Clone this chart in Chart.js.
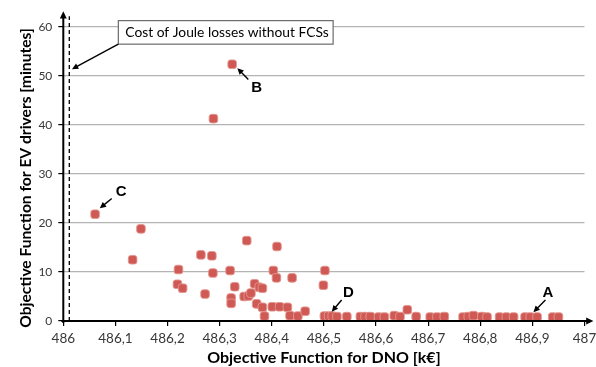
<!DOCTYPE html>
<html>
<head>
<meta charset="utf-8">
<script src="https://cdn.jsdelivr.net/npm/chart.js@4/dist/chart.umd.min.js"></script>
<style>
  html, body { margin: 0; padding: 0; background: #fff; }
  #wrap { width: 596px; height: 367px; }
</style>
</head>
<body>
<div id="wrap"><canvas id="paretoChart"></canvas></div>
<script>
// Pareto front: DNO cost (k€) vs EV drivers' objective (minutes)
const dnoCost = [
  486.061, 486.133, 486.149, 486.221, 486.219, 486.229, 486.264, 486.272, 486.285, 486.287,
  486.288, 486.320, 486.322, 486.322, 486.324, 486.329, 486.347, 486.352, 486.355, 486.360,
  486.367, 486.371, 486.376, 486.382, 486.382, 486.386, 486.401, 486.403, 486.409, 486.410,
  486.415, 486.430, 486.435, 486.439, 486.450, 486.464, 486.499, 486.501, 486.502, 486.509,
  486.516, 486.525, 486.544, 486.570, 486.579, 486.589, 486.605, 486.616, 486.635, 486.646,
  486.660, 486.677, 486.704, 486.717, 486.731, 486.767, 486.777, 486.787, 486.803, 486.813,
  486.837, 486.850, 486.864, 486.886, 486.896, 486.909, 486.939, 486.950
];
const evMinutes = [
  21.8, 12.5, 18.8, 10.5, 7.5, 6.7, 13.5, 5.5, 13.3, 9.8,
  41.3, 10.3, 4.7, 3.6, 52.4, 7.0, 5.0, 16.4, 5.1, 5.7,
  7.6, 3.5, 6.9, 6.7, 2.8, 1.0, 2.9, 10.3, 8.8, 15.2,
  2.9, 2.8, 1.1, 8.8, 1.0, 2.0, 7.3, 1.0, 10.3, 1.0,
  1.0, 0.9, 0.9, 0.9, 0.9, 0.9, 0.8, 0.8, 1.1, 0.9,
  2.3, 0.9, 0.8, 0.8, 0.9, 0.8, 0.9, 1.1, 0.9, 0.8,
  0.8, 0.8, 0.8, 0.8, 0.8, 0.8, 0.8, 0.8
];

// Reference line: cost of Joule losses without FCSs
const jouleLossCost = 486.0115;

// Labelled solutions: [label, textX, textY, tailX, tailY, tipX, tipY]
const pointLabels = [
  ['B', 486.371, 47.6, 486.355, 49.3, 486.334, 51.6],
  ['C', 486.111, 26.4, 486.093, 25.0, 486.070, 23.0],
  ['D', 486.547, 5.8, 486.534, 4.3, 486.515, 1.9],
  ['A', 486.930, 5.65, 486.925, 4.3, 486.902, 1.8]
];

const yTitle = 'Objective Function for EV drivers [minutes]';
const tickColor = '#383838';

function arrow(ctx, x1, y1, x2, y2, head) {
  const ang = Math.atan2(y2 - y1, x2 - x1);
  ctx.beginPath();
  ctx.moveTo(x1, y1);
  ctx.lineTo(x2 - Math.cos(ang) * head * 0.6, y2 - Math.sin(ang) * head * 0.6);
  ctx.stroke();
  ctx.beginPath();
  ctx.moveTo(x2, y2);
  ctx.lineTo(x2 - head * Math.cos(ang - 0.45), y2 - head * Math.sin(ang - 0.45));
  ctx.lineTo(x2 - head * Math.cos(ang + 0.45), y2 - head * Math.sin(ang + 0.45));
  ctx.closePath();
  ctx.fill();
}

// Axes with arrows, dashed reference line and callouts
const decorPlugin = {
  id: 'decor',
  afterDatasetsDraw(chart) {
    const { ctx, scales: { x, y } } = chart;
    const x0 = x.getPixelForValue(486), y0 = y.getPixelForValue(0);
    ctx.save();
    ctx.strokeStyle = '#000';
    ctx.fillStyle = '#000';
    ctx.lineWidth = 2;
    arrow(ctx, x0, y0 + 2, x0, y.getPixelForValue(63.2), 8);
    arrow(ctx, x0 - 2, y0, x.getPixelForValue(487.017), y0, 8);

    // dashed line
    ctx.lineWidth = 1.3;
    ctx.setLineDash([4, 3]);
    const xd = x.getPixelForValue(jouleLossCost);
    ctx.beginPath();
    ctx.moveTo(xd, y0);
    ctx.lineTo(xd, y.getPixelForValue(62.2));
    ctx.stroke();
    ctx.setLineDash([]);

    // callout box
    const bx1 = x.getPixelForValue(486.1056), bx2 = x.getPixelForValue(486.5177);
    const by1 = y.getPixelForValue(61.3), by2 = y.getPixelForValue(56.5);
    ctx.fillStyle = '#fff';
    ctx.fillRect(bx1, by1, bx2 - bx1, by2 - by1);
    ctx.strokeStyle = '#6b6b6b';
    ctx.lineWidth = 1.2;
    ctx.strokeRect(bx1, by1, bx2 - bx1, by2 - by1);
    ctx.fillStyle = '#000';
    ctx.font = '13.8px Lato, sans-serif';
    ctx.textBaseline = 'middle';
    ctx.textAlign = 'left';
    ctx.fillText('Cost of Joule losses without FCSs', bx1 + 7, (by1 + by2) / 2);
    ctx.strokeStyle = '#000';
    ctx.lineWidth = 1.4;
    arrow(ctx, bx1, by2, x.getPixelForValue(486.0166), y.getPixelForValue(51.4), 7);

    // point labels
    ctx.font = 'bold 15px "Liberation Sans", Arial, sans-serif';
    ctx.textAlign = 'center';
    pointLabels.forEach(([t, tx, ty, ax, ay, bx, by]) => {
      ctx.fillText(t, x.getPixelForValue(tx), y.getPixelForValue(ty));
      arrow(ctx, x.getPixelForValue(ax), y.getPixelForValue(ay), x.getPixelForValue(bx), y.getPixelForValue(by), 7);
    });

    // y axis title
    ctx.translate(26, 178);
    ctx.rotate(-Math.PI / 2);
    ctx.font = 'bold 15.6px Lato, sans-serif';
    ctx.fillText(yTitle, 0, 0);
    ctx.restore();
  }
};

new Chart(document.getElementById('paretoChart'), {
  type: 'scatter',
  data: {
    datasets: [{
      data: dnoCost.map((v, i) => ({ x: v, y: evMinutes[i] })),
      pointStyle: 'rectRounded',
      pointRadius: 5,
      pointHoverRadius: 5,
      backgroundColor: '#cf5a55',
      borderColor: 'rgba(228,150,142,0.9)',
      borderWidth: 1
    }]
  },
  options: {
    responsive: true,
    maintainAspectRatio: false,
    animation: false,
    layout: { padding: { top: 27, right: 11.5, left: 0, bottom: 0 } },
    plugins: { legend: { display: false }, tooltip: { enabled: false } },
    scales: {
      x: {
        type: 'linear',
        min: 486,
        max: 487,
        afterFit: (s) => { s.height = 46; s.paddingLeft = 0; s.paddingRight = 0; },
        border: { display: false },
        grid: { drawOnChartArea: false, tickLength: 5, tickColor: '#000', lineWidth: 1.2 },
        ticks: {
          stepSize: 0.1,
          padding: 5,
          color: tickColor,
          font: { family: 'Lato, sans-serif', size: 13.5 },
          callback: (v) => String(Number(v.toFixed(1))).replace('.', ',')
        },
        title: {
          display: true,
          text: 'Objective Function for DNO [k€]',
          color: '#000',
          font: { family: 'Lato, sans-serif', size: 16, weight: 'bold' },
          padding: { top: 2, bottom: 0 }
        }
      },
      y: {
        min: 0,
        max: 60,
        afterFit: (s) => { s.width = 63.3; s.paddingTop = 0; s.paddingBottom = 0; },
        border: { display: false },
        grid: { color: '#b4b4b4', lineWidth: 1.2, tickLength: 5, tickColor: '#000' },
        ticks: { stepSize: 10, padding: 6, color: tickColor, font: { family: 'Lato, sans-serif', size: 12 } }
      }
    }
  },
  plugins: [decorPlugin]
});
</script>
</body>
</html>
